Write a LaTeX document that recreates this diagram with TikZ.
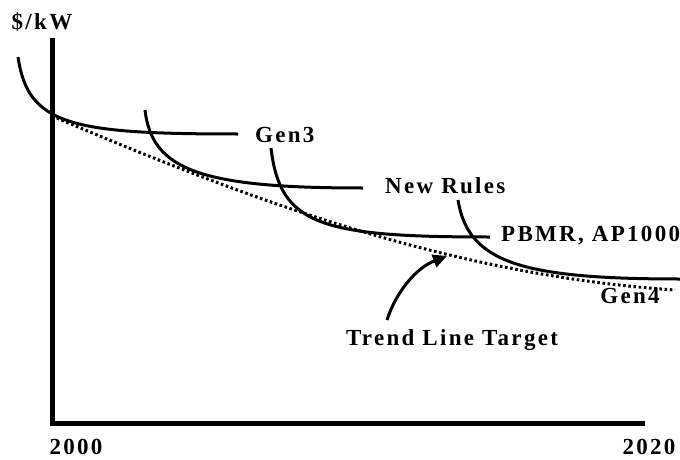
\documentclass[tikz,border=0pt]{standalone}
\usepackage{fontspec}
\setmainfont{Liberation Serif}[LetterSpace=10]
\usepackage{tikz}
\usetikzlibrary{arrows.meta,positioning,calc}

\tikzset{
  lbl/.style={font=\fontsize{23}{25}\selectfont\bfseries, inner sep=0pt},
  axisline/.style={line width=5pt},
  costcurve/.style={line width=3pt},
  trendline/.style={line width=3pt, dash pattern=on 2.6pt off 2.6pt},
  pointer/.style={line width=3pt, -{Triangle[length=14pt,width=13pt]}}
}

\begin{document}
\begin{tikzpicture}[x=1pt,y=-1pt]
  \useasboundingbox (0,0) rectangle (680,460);

  % Axes
  \draw[axisline] (52,38) -- (52,423.5) -- (645,423.5);
  \node[lbl] (ylabel) at (42,22) {\$/kW};
  \node[lbl] (xstart) at (76,447) {2000};
  \node[lbl] (xend) at (649,447) {2020};

  % Trend line
  \draw[trendline] (52,116) .. controls (250,200) and (450,275) .. (675,290);

  % Cost curves
  \draw[costcurve] (18,57) .. controls (28,125) and (70,134) .. (238,134);
  \node[lbl, anchor=west] (gen3) at (255,135) {Gen3};

  \draw[costcurve] (145,110) .. controls (152,170) and (200,188) .. (363,188);
  \node[lbl, anchor=west] (newrules) at (385,186) {New Rules};

  \draw[costcurve] (271,148) .. controls (280,225) and (320,237) .. (490,237);
  \node[lbl, anchor=west] (pbmr) at (501,236) {PBMR, AP1000};

  \draw[costcurve] (458,200) .. controls (468,262) and (520,279) .. (680,279);
  \node[lbl] (gen4) at (630,296) {Gen4};

  % Target label and pointer
  \node[lbl] (trend) at (452,340) {Trend Line Target};
  \coordinate (tail) at (387,320);
  \coordinate (tip) at (447,256);
  \draw[pointer] (tail) .. controls (396,292) and (416,268) .. (tip);
\end{tikzpicture}
\end{document}
